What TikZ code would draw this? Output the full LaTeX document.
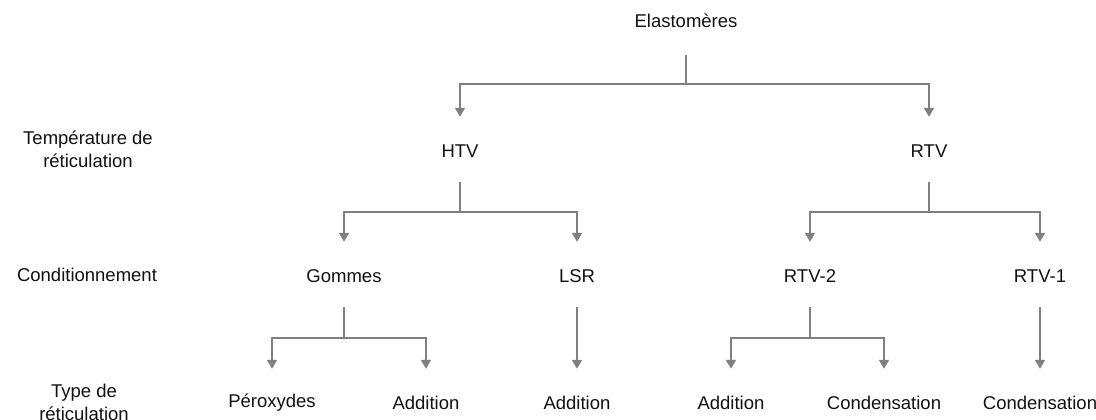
\documentclass[tikz,border=0pt]{standalone}
\usepackage{fontspec}
\setmainfont{Liberation Sans}
\usetikzlibrary{arrows.meta}
\definecolor{linegray}{HTML}{808080}
\definecolor{txt}{HTML}{111111}
\begin{document}
\begin{tikzpicture}[x=1pt,y=-1pt,
  lbl/.style={inner sep=0pt,minimum height=24pt,font=\fontsize{18.5}{23}\selectfont,text=txt},
  side/.style={inner sep=0pt,align=center,font=\fontsize{18.5}{23}\selectfont,text=txt},
  conn/.style={draw=linegray,line width=1.7pt},
  arr/.style={conn,-{Triangle[width=10pt,length=9pt]},shorten >=22pt},
  stem/.style={conn,shorten <=19pt}]
\useasboundingbox (0,0) rectangle (1096,420);
% left labels
\node[side] (t1) at (88,149) {Température de\\réticulation};
\node[side] (t2) at (87,275) {Conditionnement};
\node[side] (t3) at (84,402) {Type de\\réticulation};
% tree nodes
\node[lbl] (el) at (686,21) {Elastomères};
\node[lbl] (htv) at (460,151) {HTV};
\node[lbl] (rtv) at (929,151) {RTV};
\node[lbl] (gom) at (344,276) {Gommes};
\node[lbl] (lsr) at (577,276) {LSR};
\node[lbl] (rtv2) at (810,276) {RTV-2};
\node[lbl] (rtv1) at (1040,276) {RTV-1};
\node[lbl] (per) at (272,403) {Péroxydes};
\node[lbl] (add1) at (426,403) {Addition};
\node[lbl] (add2) at (577,403) {Addition};
\node[lbl] (add3) at (731,403) {Addition};
\node[lbl] (con1) at (884,403) {Condensation};
\node[lbl] (con2) at (1040,403) {Condensation};
% junctions
\coordinate (j0) at (686,84);
\coordinate (j1) at (460,212);
\coordinate (j2) at (929,212);
\coordinate (j3) at (344,338);
\coordinate (j4) at (810,338);
% connectors
\draw[conn,shorten <=22pt] (el.south) -- (j0);
\draw[arr] (j0) -| (htv.north);
\draw[arr] (j0) -| (rtv.north);
\draw[stem] (htv.south) -- (j1);
\draw[arr] (j1) -| (gom.north);
\draw[arr] (j1) -| (lsr.north);
\draw[stem] (rtv.south) -- (j2);
\draw[arr] (j2) -| (rtv2.north);
\draw[arr] (j2) -| (rtv1.north);
\draw[stem] (gom.south) -- (j3);
\draw[arr] (j3) -| (per.north);
\draw[arr] (j3) -| (add1.north);
\draw[stem] (rtv2.south) -- (j4);
\draw[arr] (j4) -| (add3.north);
\draw[arr] (j4) -| (con1.north);
\draw[arr,shorten <=19pt] (lsr.south) -- (add2.north);
\draw[arr,shorten <=19pt] (rtv1.south) -- (con2.north);
\end{tikzpicture}
\end{document}
